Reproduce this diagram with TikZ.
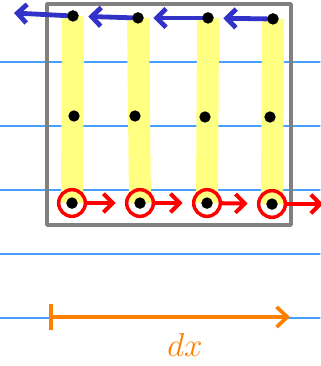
\documentclass[tikz,border=0pt]{standalone}
\usetikzlibrary{arrows.meta}

\definecolor{ruleblue}{RGB}{70,160,255}
\definecolor{marker}{RGB}{255,255,130}
\definecolor{penblue}{RGB}{50,50,200}
\definecolor{penred}{RGB}{255,0,0}
\definecolor{penorange}{RGB}{255,128,0}

\begin{document}
\begin{tikzpicture}[x=0.75pt,y=-0.75pt,line cap=round,line join=round,
  dot/.style={circle,fill=black,inner sep=0pt,minimum size=8.5pt},
  ring/.style={circle,draw=penred,line width=2.6pt,inner sep=0pt,minimum size=20pt},
  strip/.style={draw=marker,line width=16.5pt},
  leftarrow/.style={draw=penblue,line width=3.6pt,-{Straight Barb[length=7pt,width=14pt]},shorten >=7pt},
  rightarrow/.style={draw=penred,line width=3pt,-{Straight Barb[length=7pt,width=14pt]},shorten >=7pt},
  rule/.style={draw=ruleblue,line width=0.8pt}]
  \useasboundingbox (0,0) rectangle (320,366);

  % ruled paper
  \draw[rule] (0,62) -- (320,62);
  \draw[rule] (0,126) -- (320,126);
  \draw[rule] (0,190) -- (320,190);
  \draw[rule] (0,254) -- (320,254);
  \draw[rule] (0,318) -- (320,318);

  % control volume
  \draw[gray,line width=2.8pt] (47,4) rectangle (291,225);

  % points
  \node[dot] (t1) at (73,16)  {};
  \node[dot] (t2) at (138,18) {};
  \node[dot] (t3) at (208,18) {};
  \node[dot] (t4) at (273,19) {};
  \node[dot] (m1) at (74,116)  {};
  \node[dot] (m2) at (135,116) {};
  \node[dot] (m3) at (205,117) {};
  \node[dot] (m4) at (270,117) {};
  \node[dot] (b1) at (72,203)  {};
  \node[dot] (b2) at (140,203) {};
  \node[dot] (b3) at (207,203) {};
  \node[dot] (b4) at (272,204) {};
  \coordinate (tl) at (14,13);
  \coordinate (br) at (323,204);

  % highlighted columns
  \path[strip,line cap=butt] (t1.center) -- (b1.center) (t2.center) -- (b2.center)
                             (t3.center) -- (b3.center) (t4.center) -- (b4.center);

  % marked points at the bottom
  \node[ring] (c1) at (b1) {};
  \node[ring] (c2) at (b2) {};
  \node[ring] (c3) at (b3) {};
  \node[ring] (c4) at (b4) {};

  \path (t1) edge[leftarrow,shorten >=0pt] (tl)
        (t2) edge[leftarrow] (t1)
        (t3) edge[leftarrow] (t2)
        (t4) edge[leftarrow] (t3);
  \path (c1) edge[rightarrow] (c2)
        (c2) edge[rightarrow] (c3)
        (c3) edge[rightarrow] (c4)
        (c4) edge[rightarrow,shorten >=0pt] (br);

  \node[dot] at (t1) {}; \node[dot] at (t2) {}; \node[dot] at (t3) {}; \node[dot] at (t4) {};
  \node[dot] at (m1) {}; \node[dot] at (m2) {}; \node[dot] at (m3) {}; \node[dot] at (m4) {};
  \node[dot] at (b1) {}; \node[dot] at (b2) {}; \node[dot] at (b3) {}; \node[dot] at (b4) {};

  % length of the element
  \coordinate (d0) at (49,317);
  \coordinate (d1) at (290,317);
  \draw[penorange,line width=2.8pt,{Bar[width=19pt]}-{Straight Barb[length=8pt,width=15pt]}] (d0) -- (d1);
  \node[text=penorange,font=\fontsize{26}{26}\selectfont] (dx) at (185,345) {$dx$};
\end{tikzpicture}
\end{document}
